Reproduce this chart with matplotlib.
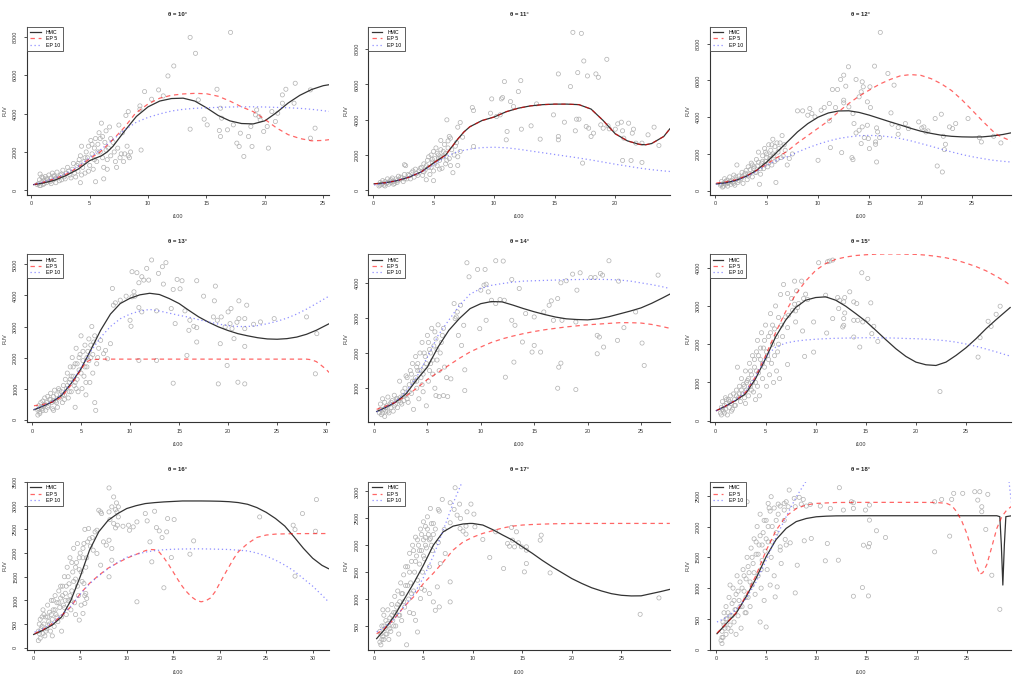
import matplotlib
matplotlib.use("Agg")
import matplotlib.pyplot as plt
from matplotlib.lines import Line2D

plt.rcParams['font.family'] = ['Liberation Sans', 'DejaVu Sans']

thetas = [10, 11, 12, 13, 14, 15, 16, 17, 18]
x_label = "i100"
y_label = "FUV"
legend_labels = ["HMC", "EP 5", "EP 10"]

# ---------------- theta = 10 ----------------
pts10 = [(0.6,350),(0.7,550),(0.75,850),(0.8,250),(0.9,450),(1.0,650),(1.0,300),(1.1,500),(1.2,720),(1.3,400),
         (1.4,600),(1.5,800),(1.6,450),(1.7,650),(1.8,900),(1.9,550),(2.0,750),(2.1,400),(2.2,950),(2.3,650),
         (2.5,800),(2.6,550),(2.7,1050),(2.8,700),(3.0,900),(3.1,1200),(3.3,800),(3.5,1100),(3.6,1400),(3.8,700),
         (3.9,1300),(4.0,1000),(4.1,1600),(4.2,1800),(4.3,2300),(4.4,1200),(4.5,1500),(4.6,900),(4.7,2000),(4.8,1700),
         (4.9,2300),(5.0,1300),(5.1,2600),(5.2,1900),(5.3,1100),(5.4,2200),(5.5,2700),(5.6,1500),(5.7,2400),(5.8,3000),
         (5.9,2000),(6.0,3500),(6.1,2800),(6.2,1200),(6.3,2500),(6.4,3100),(6.5,1600),(6.6,2200),(6.7,3300),(6.8,1800),
         (7.0,2500),(7.1,2000),(7.3,1200),(7.5,3400),(7.6,1700),(7.8,3000),(7.9,1500),(8.0,1900),(8.1,3900),(8.2,2300),
         (8.3,4100),(8.4,1700),(8.5,2000),(9.4,2100),(5.5,450),(6.2,600),(6.5,1100),(4.2,400),
         (13.6,7965),(17.06,8225),(14.06,7134),(12.2,6476),(11.7,5957),(9.7,5143),(10.9,5229),(11.3,4918),(10.3,4745),
         (9.3,4398),(9.3,4225),(14.3,4710),(13.6,3186),(14.8,3706),(15.06,3411),(15.9,5264),(16.2,4277),(16.3,3758),
         (16.1,3117),(16.2,2805),(16.8,3152),(17.3,3411),(17.6,2459),(17.8,2286),(18.2,1766),(17.9,2978),(18.6,2805),
         (18.8,3325),(18.9,2286),(19.2,3931),(19.3,4190),(19.5,3844),(19.6,3671),(19.9,3065),(20.2,3325),(20.3,2200),
         (20.6,4104),(20.9,3585),(21.1,4017),(21.5,4537),(21.5,4970),(21.8,5264),(22.6,5576),(22.5,4537),(23.9,5230),
         (24.3,3238),(23.9,2719)]
dense10 = [(0.5,300),(0.7,250),(0.9,700),(1.1,350),(1.3,600),(1.5,500),(1.7,350),(1.9,750),(2.1,650),(2.4,500),
           (2.6,850),(2.9,600),(3.2,1000),(3.4,650),(3.7,900),(4.0,1400),(4.3,800),(4.6,1700),(4.9,1000),(5.2,2400),
           (5.4,1600),(5.7,2000),(5.9,2700),(6.1,1700),(6.4,2100),(6.8,2700),(7.2,1500),(7.4,2200),(7.7,1900),(8.3,1800)]
hmc10 = [(0.2,300),(1,380),(2,530),(3,780),(4,1100),(5,1550),(6,1800),(6.5,2000),(7,2300),(7.5,2700),(8,3100),
         (9,3850),(10,4350),(11,4650),(12,4780),(13,4800),(14,4650),(15,4300),(16,3900),(17,3620),(18,3480),
         (19,3460),(20,3620),(21,4050),(22,4550),(23,4950),(24,5250),(25,5450),(25.5,5500)]
ep5_10 = [(0.2,300),(1,420),(2,600),(3,850),(4,1200),(5,1650),(5.9,2000),(7,2650),(8,3300),(8.9,4000),(10,4500),
          (11,4800),(12,4950),(13,5020),(14,5050),(15,5030),(16,4900),(17,4650),(18,4350),(19,4100),(20,3700),
          (21,3250),(22,2900),(23,2700),(24,2580),(25,2600),(25.5,2640)]
ep10_10 = [(0.2,300),(1,430),(2,630),(3,900),(4,1250),(5,1700),(6,2150),(7,2650),(8,3150),(9,3550),(10,3800),
           (11,3980),(12,4130),(13,4220),(14,4270),(15,4300),(16,4320),(17,4340),(18,4350),(19,4350),(20,4340),
           (21,4320),(22,4300),(23,4270),(24,4220),(25,4150),(25.5,4110)]

# ---------------- theta = 11 ----------------
pts11 = [(0.5,250),(0.6,450),(0.7,350),(0.8,550),(0.9,300),(1.0,500),(1.1,400),(1.2,650),(1.3,350),(1.4,550),
         (1.5,450),(1.6,700),(1.7,500),(1.8,400),(1.9,650),(2.0,550),(2.1,800),(2.2,600),(2.4,700),(2.5,500),
         (2.6,900),(2.7,1400),(2.8,650),(3.0,850),(3.2,1000),(3.4,750),(3.5,1200),(3.6,950),(3.8,1100),(4.0,1300),
         (4.1,850),(4.2,1500),(4.3,1150),(4.5,1700),(4.6,1300),(4.7,900),(4.8,2000),(4.9,1600),(5.0,2200),(5.0,1100),
         (5.1,1800),(5.2,2400),(5.3,1400),(5.4,2000),(5.5,1700),(5.6,2300),(5.7,1250),(5.8,1900),(5.9,2600),(6.0,1500),
         (6.0,2100),(6.2,2800),(6.3,1800),(6.5,2300),(6.6,1000),(6.8,2500),(7.0,1900),(4.4,600),(5.0,550),(2.6,1450),
         (16.5,8940),(17.2,8883),(19.3,7415),(17.4,7321),(16.9,6662),(17.7,6474),(18.4,6587),(18.6,6399),(15.3,6587),
         (16.3,5872),(10.85,6154),(12.2,6210),(12.0,5590),(9.8,5175),(10.6,5175),(10.7,5250),(11.35,5025),(8.2,4686),
         (8.3,4517),(9.7,4366),(10.2,4178),(10.5,4272),(11.6,4743),(13.5,4893),(14.9,4272),(15.8,3858),(16.8,4027),
         (17.0,4027),(16.7,3369),(17.6,3614),(17.8,3519),(18.0,3049),(18.2,3237),(18.8,3708),(19.0,3519),(19.4,3651),
         (19.5,3482),(20.0,3463),(20.2,3764),(20.5,3858),(20.6,3369),(20.7,2955),(21.1,3802),(21.4,3237),(21.5,3463),
         (21.7,2672),(22.2,2672),(23.2,3576),(23.6,2540),(22.7,3143),(20.6,1694),(21.3,1694),(22.2,1581),(17.3,1543),
         (13.8,2898),(15.3,3049),(15.3,2860),(13.05,3651),(12.25,3463),(11.07,3331),(11.0,2860),(7.2,3839),(7.0,3576),
         (7.4,3011),(7.2,2202),(7.0,1411),(8.3,2484),(6.1,3990),(5.6,2823),(6.3,3049),(6.4,2955)]
dense11 = [(0.6,300),(0.8,400),(1.0,250),(1.2,450),(1.5,600),(1.7,350),(2.0,450),(2.3,750),(2.6,650),(2.9,900),
           (3.1,650),(3.3,1100),(3.7,850),(3.9,1250),(4.2,1050),(4.4,1400),(4.6,1900),(4.8,1300),(5.1,1500),(5.3,2100),
           (5.5,1200),(5.6,1900),(5.8,2200),(6.1,1700),(6.2,2400),(6.4,1400),(6.7,2000),(6.9,2700),(5.4,1800),(4.9,1750)]
hmc11 = [(0.1,370),(1,430),(2,550),(3,750),(4,1050),(5,1550),(6,2000),(6.5,2450),(7,2900),(7.5,3300),(8,3600),
         (9,3950),(10,4150),(11,4450),(12,4650),(13,4780),(14,4850),(15,4880),(16,4880),(17,4850),(18,4600),
         (19,3950),(20,3200),(21,2800),(22,2600),(22.5,2580),(23,2650),(24,3050),(24.5,3480)]
ep5_11 = [(0.1,370),(1,430),(2,550),(3,750),(4,1050),(5,1550),(6,2000),(6.5,2450),(7,2900),(7.5,3300),(8,3600),
          (9,3950),(10,4150),(11,4450),(12,4650),(13,4780),(14,4850),(15,4880),(16,4880),(17,4850),(18,4600),
          (19,3950),(20,3200),(21,2800),(22,2600),(22.5,2580),(23,2650),(24,3050),(24.5,3480)]
ep10_11 = [(0.1,300),(1,420),(2,560),(3,760),(4,1050),(5,1450),(6,1900),(7,2200),(8,2330),(9,2420),(10,2440),
           (11,2410),(12,2330),(13,2230),(14,2130),(15,2030),(16,1930),(17,1830),(18,1720),(19,1600),(20,1480),
           (21,1370),(22,1260),(23,1170),(24,1100),(24.5,1070)]

# ---------------- theta = 12 ----------------
pts12 = [(0.5,300),(0.6,500),(0.7,200),(0.8,400),(0.9,650),(1.0,350),(1.1,550),(1.2,250),(1.3,450),(1.4,750),
         (1.5,350),(1.6,550),(1.7,450),(1.8,850),(1.9,300),(2.0,600),(2.1,1400),(2.2,450),(2.3,800),(2.5,650),
         (2.6,1000),(2.7,400),(2.8,850),(3.0,1100),(3.1,600),(3.2,1300),(3.3,900),(3.5,1500),(3.6,750),(3.7,1200),
         (3.9,1000),(4.0,1700),(4.1,1350),(4.2,2100),(4.3,350),(4.4,900),(4.5,1500),(4.6,1900),(4.7,1200),(4.8,2300),
         (4.9,1600),(5.0,2000),(5.1,1300),(5.2,2500),(5.3,1750),(5.4,2200),(5.5,1400),(5.6,2800),(5.7,1900),(5.8,2400),
         (5.9,450),(6.0,1700),(6.1,2100),(6.3,2600),(6.5,3000),(6.6,1900),(6.8,2200),(7.0,1400),(7.2,1750),(7.5,2000),
         (16.06,8618),(15.5,6781),(12.96,6745),(16.8,6381),(13.7,6054),(12.5,6290),(12.2,6054),(14.3,5927),(12.7,5690),
         (14.4,5654),(11.4,5509),(11.9,5509),(15.05,5654),(17.4,5745),(14.2,5381),(14.0,5109),(12.5,4927),(12.5,4781),
         (11.1,4745),(10.3,4381),(10.6,4527),(11.7,4527),(14.8,4836),(15.1,4527),(13.0,4563),(8.0,4345),(8.5,4345),
         (9.2,4472),(9.4,4200),(9.7,4018),(9.0,4109),(13.4,4200),(11.1,3800),(13.5,3654),(13.7,3145),(14.0,3290),
         (14.3,3472),(14.8,3563),(15.7,3418),(15.8,3200),(14.5,2890),(14.9,2836),(15.6,2654),(15.6,2527),(16.0,2890),
         (14.2,2563),(15.0,2290),(11.2,2345),(12.3,2072),(13.3,1800),(13.4,1690),(15.7,1563),(10.0,1654),(17.1,4236),
         (17.2,3618),(17.8,3436),(18.5,3654),(18.8,3381),(19.8,3745),(20.1,3418),(20.3,3472),(20.5,3200),(20.7,3254),
         (21.4,3927),(22.0,4163),(22.2,2963),(22.4,2527),(22.3,2236),(21.6,1345),(22.1,1018),(22.8,3472),(23.1,3381),
         (23.4,3654),(24.6,3927),(25.7,2890),(25.9,2654),(27.1,2963),(27.8,2600),(17.8,3072)]
dense12 = [(0.6,350),(0.8,250),(1.0,500),(1.2,400),(1.5,500),(1.8,400),(2.0,750),(2.3,550),(2.6,750),(2.9,950),
           (3.2,800),(3.4,1150),(3.8,1300),(4.0,1000),(4.2,1550),(4.4,1200),(4.6,1600),(4.8,1400),(5.0,1800),(5.2,1500),
           (5.4,1900),(5.6,2000),(5.8,1600),(6.0,2600),(6.2,2300),(6.4,1800),(6.7,2500),(3.6,1400),(4.9,2100),(5.5,2500)]
hmc12 = [(0.1,370),(1,430),(2,560),(3,780),(4,1100),(5,1560),(6,2100),(7,2650),(8,3200),(9,3650),(10,4000),
         (11,4230),(12,4340),(13,4350),(14,4260),(15,4110),(16,3930),(17,3750),(18,3580),(19,3400),(20,3240),
         (21,3120),(22,3020),(23,2960),(24,2930),(25,2920),(26,2930),(27,2980),(28,3060),(28.8,3150)]
ep5_12 = [(0.1,420),(1,480),(2,600),(3,800),(4,1100),(5,1450),(6,1800),(7,2150),(8,2600),(9,3000),(10,3400),
          (11,3800),(12,4300),(13,4750),(14,5150),(15,5480),(16,5800),(17,6050),(18,6250),(19,6320),(20,6280),
          (21,6100),(22,5820),(23,5450),(24,4950),(25,4380),(26,3800),(27,3250),(27.5,3030),(28,2900),(28.8,2700)]
ep10_12 = [(0.1,350),(1,420),(2,560),(3,760),(4,1050),(5,1400),(6,1650),(7,1850),(8,2100),(9,2330),(10,2530),
           (11,2700),(12,2840),(13,2930),(14,2990),(15,3010),(16,2990),(17,2930),(18,2840),(19,2720),(20,2570),
           (21,2420),(22,2260),(23,2110),(24,1970),(25,1850),(26,1750),(27,1660),(28,1600),(28.8,1560)]

# ---------------- theta = 13 ----------------
pts13 = [(0.6,300),(0.6,150),(0.7,450),(0.8,250),(0.9,550),(1.0,350),(1.1,600),(1.2,450),(1.3,700),(1.4,300),
         (1.5,550),(1.6,750),(1.7,450),(1.8,650),(1.9,850),(2.0,550),(2.1,350),(2.2,750),(2.3,950),(2.4,600),
         (2.5,800),(2.6,400),(2.7,1000),(2.8,700),(3.0,900),(3.1,550),(3.2,1100),(3.3,800),(3.4,1300),(3.5,1000),
         (3.6,1500),(3.7,700),(3.8,1200),(3.9,1700),(4.0,900),(4.1,2000),(4.2,1400),(4.3,1100),(4.4,1800),(4.5,2300),
         (4.6,1300),(4.7,900),(4.8,1600),(4.9,2100),(5.0,2700),(5.1,1000),(5.2,1900),(5.3,1400),(5.4,2400),(5.5,800),
         (5.6,1700),(5.7,2200),(5.8,2600),(5.9,1200),(6.0,2000),(6.1,3000),(6.2,1500),(6.3,2500),(6.4,550),(6.5,300),
         (6.6,1800),(6.8,2300),(4.4,400),(2.2,300),(0.8,200),
         (12.2,5142),(13.66,5056),(13.3,4926),(11.7,4872),(10.2,4765),(10.7,4733),(11.2,4603),(11.4,4495),(10.9,4409),
         (11.9,4495),(12.9,4711),(14.8,4517),(15.3,4474),(16.8,4474),(18.7,4301),(14.4,4193),(15.1,4215),(13.4,4366),
         (10.4,4118),(10.2,3956),(8.2,4226),(8.5,3762),(8.3,3687),(9.0,3848),(9.6,3977),(10.5,3977),(10.9,3611),
         (10.0,3202),(10.1,3008),(11.2,3471),(12.7,3504),(14.2,3579),(14.6,3094),(15.6,3504),(16.1,3202),(16.5,3008),
         (16.0,2878),(16.8,2964),(16.8,2501),(17.5,3977),(18.6,3827),(18.5,3309),(18.9,3202),(19.3,3309),(19.7,2986),
         (20.0,3471),(20.3,3579),(20.2,3094),(20.4,2932),(20.6,2609),(20.9,3137),(21.1,3255),(21.1,3827),(21.9,3687),
         (21.7,3255),(21.7,2932),(22.6,3072),(23.3,3148),(24.7,3255),(28.0,3309),(29.05,2770),(28.9,1477),(21.7,2361),
         (21.0,1207),(21.7,1153),(19.0,1153),(19.9,1746),(19.2,2447),(15.8,2070),(14.4,1175),(10.9,1908),(12.7,1908),
         (7.7,1962),(7.3,2124),(7.5,2231),(7.0,2555),(8.0,2447)]
dense13 = [(0.7,350),(0.9,400),(1.1,300),(1.3,500),(1.6,400),(1.9,650),(2.2,600),(2.5,550),(2.8,950),(3.1,800),
           (3.3,650),(3.6,1100),(3.8,900),(4.0,1400),(4.2,1700),(4.4,1200),(4.6,1800),(4.8,2000),(5.0,1500),(5.2,2200),
           (5.4,1700),(5.6,2000),(5.8,1900),(6.0,2400),(6.2,2100),(6.4,2700),(6.7,2000),(4.5,1000),(5.5,1200),(3.9,1300)]
hmc13 = [(0.2,320),(1,420),(2,560),(3,780),(4,1170),(5,1640),(6,2250),(7,2880),(8,3400),(9,3740),(10,3910),
         (11,4020),(12,4070),(13,4030),(14,3900),(15,3740),(16,3520),(17,3310),(18,3140),(19,2990),(20,2870),
         (21,2770),(22,2700),(23,2640),(24,2600),(25,2590),(26,2610),(27,2660),(28,2750),(29,2880),(30.3,3090)]
ep5_13 = [(0.2,450),(1,480),(2,560),(3,720),(4,1120),(5,1620),(5.5,1850),(6,1930),(7,1950),(10,1950),(15,1950),
          (20,1950),(25,1950),(28,1950),(28.5,1930),(29,1870),(29.5,1750),(30,1620),(30.3,1520)]
ep10_13 = [(0.2,330),(1,430),(2,570),(3,800),(4,1180),(5,1680),(6,2200),(7,2650),(8,3000),(9,3250),(10,3400),
           (11,3500),(12,3550),(13,3500),(14,3430),(15,3360),(16,3300),(17,3220),(18,3150),(19,3080),(20,3030),
           (21,3000),(22,3000),(23,3030),(24,3090),(25,3170),(26,3270),(27,3400),(28,3560),(29,3740),(30.3,3980)]

# ---------------- theta = 14 ----------------
pts14 = [(0.5,300),(0.6,550),(0.7,250),(0.8,700),(0.9,400),(1.0,200),(1.0,600),(1.1,350),(1.2,500),(1.3,750),
         (1.4,300),(1.5,550),(1.6,450),(1.7,650),(1.8,350),(1.9,800),(2.0,550),(2.1,700),(2.2,450),(2.3,650),
         (2.4,1200),(2.5,750),(2.6,550),(2.7,900),(2.8,650),(2.9,1000),(3.0,800),(3.1,1300),(3.2,600),(3.3,1100),
         (3.4,1500),(3.5,850),(3.6,1700),(3.7,400),(3.8,1200),(3.9,1900),(4.0,1000),(4.1,1500),(4.2,700),(4.3,2000),
         (4.4,1300),(4.5,2300),(4.6,900),(4.7,1600),(4.8,1900),(4.9,500),(5.0,2500),(5.1,1200),(5.2,2100),(5.3,1700),
         (5.4,2700),(5.5,1400),(5.6,2200),(5.7,1000),(5.8,2400),(5.9,1800),(6.0,2800),(6.2,2000),(6.4,2500),(6.6,1600),
         (6.8,1300),(4.0,1200),(3.0,1350),
         (11.4,4618),(12.1,4609),(8.7,4561),(9.7,4371),(10.4,4371),(22.0,4618),(26.6,4210),(18.6,4238),(19.3,4276),
         (21.2,4257),(21.4,4210),(20.3,4143),(20.7,4143),(22.9,4039),(17.5,3992),(18.0,4049),(8.9,4162),(10.0,3783),
         (10.3,3925),(10.5,3953),(10.7,3735),(11.0,3497),(11.8,3517),(12.2,3497),(11.4,3403),(12.9,4087),(13.6,3830),
         (19.0,3783),(17.2,3545),(16.6,3479),(16.4,3355),(15.9,3165),(14.2,3118),(15.0,3023),(12.9,2928),(13.2,2786),
         (17.6,2928),(16.8,2928),(18.9,2880),(20.9,2501),(21.1,2453),(21.5,2168),(20.9,1978),(22.8,2358),(23.4,2719),
         (24.5,3165),(25.1,2282),(25.3,1646),(17.5,1712),(17.3,1598),(17.2,1000),(18.9,962),(13.1,1741),(15.6,2026),
         (15.0,2215),(13.9,2311),(14.8,2026),(12.3,1313),(9.9,2690),(10.5,2928),(8.5,934),(8.5,1522),(8.2,2215),
         (7.9,2500),(7.6,2975),(7.7,3023),(7.8,3165),(8.1,3355),(7.5,3403),(8.4,2786),(6.9,763),(6.5,791),(6.1,763),
         (5.8,791),(7.2,1266)]
dense14 = [(0.6,400),(0.8,300),(1.1,450),(1.3,350),(1.6,600),(1.9,500),(2.2,700),(2.5,600),(2.8,800),(3.1,700),
           (3.3,900),(3.6,1200),(3.9,1300),(4.1,1700),(4.3,1500),(4.5,1100),(4.7,2000),(4.9,1700),(5.1,2300),(5.3,2000),
           (5.5,1800),(5.7,2600),(5.9,2100),(6.1,1500),(6.3,2300),(6.5,2700),(3.5,1400),(4.0,1600),(4.6,1400),(5.2,1500)]
hmc14 = [(0.25,340),(1,440),(2,600),(3,840),(4,1240),(5,1600),(6,2170),(7,2640),(8,2980),(9,3260),(10,3400),
         (11,3460),(12,3450),(13,3360),(14,3260),(15,3170),(16,3090),(17,3020),(18,2970),(19,2950),(20,2940),
         (21,2970),(22,3030),(23,3110),(24,3190),(25,3280),(26,3410),(27,3560),(27.7,3670)]
ep5_14 = [(0.25,400),(1,480),(2,600),(3,780),(4,1000),(5,1250),(6,1450),(7,1650),(8,1850),(9,2030),(10,2170),
          (11,2300),(12,2400),(13,2480),(14,2550),(15,2610),(16,2660),(17,2700),(18,2740),(19,2770),(20,2800),
          (21,2820),(22,2840),(23,2860),(24,2860),(25,2850),(26,2810),(27,2750),(27.7,2700)]
ep10_14 = [(0.25,330),(1,440),(2,620),(3,900),(4,1320),(5,1880),(6,2500),(7,2930),(8,3350),(9,3670),(10,3830),
           (11,3920),(12,3970),(13,4010),(14,4040),(15,4050),(16,4060),(17,4070),(18,4080),(19,4085),(20,4090),
           (21,4090),(22,4085),(23,4070),(24,4040),(25,3990),(26,3940),(27,3880),(27.7,3830)]

# ---------------- theta = 15 ----------------
pts15 = [(0.5,200),(0.6,350),(0.6,150),(0.7,500),(0.8,250),(0.9,400),(1.0,600),(1.0,300),(1.1,450),(1.2,150),
         (1.3,550),(1.4,350),(1.5,650),(1.6,450),(1.7,300),(1.8,700),(1.9,550),(2.0,400),(2.1,800),(2.2,1400),
         (2.3,600),(2.4,900),(2.5,500),(2.6,1100),(2.7,700),(2.8,950),(2.9,600),(3.0,1300),(3.1,800),(3.2,1050),
         (3.3,650),(3.4,1500),(3.5,900),(3.6,1200),(3.7,1700),(3.8,750),(3.9,1400),(4.0,1000),(4.1,1800),(4.2,2100),
         (4.3,1250),(4.4,650),(4.5,1600),(4.6,2300),(4.7,1100),(4.8,1900),(4.9,1400),(5.0,2500),(5.1,900),(5.2,1700),
         (5.3,2200),(5.4,1200),(5.5,2800),(5.6,1500),(5.7,2000),(5.8,1000),(5.9,2400),(6.0,3000),(6.1,1300),(6.2,1800),
         (6.3,2700),(6.4,1100),(6.5,3300),(6.7,2200),(4.0,550),(3.0,450),
         (10.3,4131),(11.2,4158),(11.4,4175),(11.7,4201),(14.6,3869),(15.2,3720),(6.8,3562),(7.9,3650),(8.6,3650),
         (8.1,3396),(9.0,3309),(8.8,3195),(9.2,3169),(8.3,3064),(7.2,3326),(7.6,3195),(7.9,3046),(8.2,2959),(7.7,2888),
         (7.3,2757),(7.0,2714),(7.2,2433),(8.0,2871),(8.0,2582),(11.0,3282),(12.2,3221),(12.4,3151),(12.9,3221),
         (13.4,3370),(13.8,3107),(14.1,3064),(12.8,3107),(12.3,2932),(11.7,2670),(12.8,2670),(12.9,2818),(12.8,2495),
         (12.7,2451),(13.8,2626),(14.2,2626),(14.7,2582),(15.2,2652),(15.5,3081),(15.8,2468),(15.6,2276),(16.2,2074),
         (13.8,2188),(14.4,1926),(11.1,2293),(9.8,2582),(9.8,1794),(8.9,1681),(8.7,2346),(7.2,1470),(22.4,762),
         (26.2,1663),(26.4,2171),(27.2,2600),(27.5,2468),(28.0,2783),(28.4,2994)]
dense15 = [(0.7,300),(0.9,200),(1.1,550),(1.4,500),(1.6,250),(1.9,400),(2.1,650),(2.4,700),(2.6,800),(2.9,900),
           (3.1,1000),(3.3,1100),(3.5,1300),(3.7,1000),(3.9,1600),(4.1,1300),(4.3,1700),(4.5,1900),(4.7,1500),(4.9,2100),
           (5.1,1800),(5.3,1600),(5.5,2300),(5.7,2500),(5.9,1700),(6.1,2200),(6.3,2000),(6.6,2500),(4.2,900),(3.6,800)]
hmc15 = [(0.1,263),(1,380),(2,525),(3,700),(4,1094),(5,1619),(6,2188),(7,2626),(8,2959),(9,3151),(10,3221),
         (11,3239),(12,3151),(13,2994),(14,2801),(15,2600),(16,2363),(17,2118),(18,1882),(19,1681),(20,1532),
         (21,1462),(22,1444),(23,1532),(24,1707),(25,1908),(26,2145),(27,2407),(28,2643),(29.4,2959)]
ep5_15 = [(0.1,263),(1,380),(2,530),(3,740),(4,1150),(5,1700),(6,2300),(7,2850),(8,3300),(9,3650),(10,3930),
          (11,4110),(12,4220),(13,4280),(14,4320),(15,4340),(16,4355),(17,4360),(18,4360),(19,4355),(20,4350),
          (21,4330),(22,4300),(23,4260),(24,4200),(25,4120),(26,4030),(27,3920),(28,3780),(29,3620),(29.4,3545)]
ep10_15 = [(0.1,263),(1,380),(2,540),(3,760),(4,1150),(5,1650),(5.5,1800),(6,1920),(7,2030),(8,2080),(9,2110),
           (10,2130),(11,2145),(12,2155),(13,2160),(14,2165),(15,2170),(16,2170),(17,2165),(18,2160),(19,2150),
           (20,2145),(21,2130),(22,2115),(23,2090),(24,2055),(25,2005),(26,1945),(27,1875),(28,1800),(29,1720),
           (29.4,1690)]

# ---------------- theta = 16 ----------------
pts16 = [(0.5,150),(0.6,300),(0.6,500),(0.7,200),(0.8,400),(0.9,650),(1.0,300),(1.0,800),(1.1,500),(1.2,250),
         (1.3,650),(1.4,400),(1.5,900),(1.6,550),(1.7,750),(1.8,350),(1.9,1000),(2.0,600),(2.1,800),(2.2,450),
         (2.3,1100),(2.4,700),(2.5,950),(2.6,550),(2.7,1200),(2.8,850),(2.9,1050),(3.0,650),(3.1,1300),(3.2,900),
         (3.3,1500),(3.4,1150),(3.5,700),(3.6,1700),(3.7,1000),(3.8,1350),(3.9,1900),(4.0,800),(4.1,1200),(4.2,1600),
         (4.3,2100),(4.4,950),(4.5,1450),(4.6,1800),(4.7,2200),(4.8,1100),(4.9,1650),(5.0,2000),(5.1,900),(5.2,1400),
         (5.3,1900),(5.4,2200),(5.5,2500),(5.6,1700),(3.0,350),(2.0,250),(4.5,700),
         (8.1,3375),(8.6,3185),(8.9,3059),(8.4,2975),(9.1,2975),(8.8,2918),(8.95,2869),(8.1,2869),(7.3,2834),(7.0,2904),
         (7.2,2869),(8.2,2707),(8.6,2623),(9.0,2588),(8.8,2531),(9.6,2566),(9.1,2763),(10.2,2588),(11.1,2658),
         (12.2,2679),(12.0,2834),(13.0,2883),(14.4,2728),(15.1,2707),(13.2,2538),(13.5,2468),(14.3,2447),(13.8,2327),
         (12.5,2236),(12.7,1814),(14.8,1905),(16.8,1976),(17.2,2257),(14.0,1266),(11.1,970),(24.3,2763),(27.9,2588),
         (28.1,2496),(28.9,2834),(30.3,2461),(30.4,3129),(28.1,1512),(10.3,2482),(10.7,2553),(8.4,2096),(8.1,2271),
         (8.4,1849),(7.8,2166),(7.5,2236),(6.8,2482),(6.6,2447),(6.3,2327),(5.9,2517),(5.8,2236),(6.1,2145),(6.4,2060),
         (6.8,1990),(7.2,1744),(8.1,1498),(5.6,1146),(5.7,1041),(5.5,935),(5.3,724),(4.9,584),(5.4,1357)]
dense16 = [(0.5,350),(0.7,600),(0.9,450),(1.1,700),(1.3,350),(1.5,650),(1.7,500),(1.9,700),(2.1,1000),(2.3,800),
           (2.5,650),(2.7,950),(2.9,1300),(3.1,1100),(3.3,850),(3.5,1300),(3.7,1500),(3.9,1100),(4.1,1800),(4.3,1400),
           (4.5,1700),(4.7,1300),(4.9,1900),(5.1,1600),(5.3,2100),(5.5,1100),(5.7,1900),(6.0,2300),(4.0,1000),(3.4,1000)]
hmc16 = [(0.0,280),(1,370),(2,480),(3,650),(4,1000),(5,1500),(6,2060),(7,2450),(8,2690),(9,2830),(10,2940),
         (11,3000),(12,3045),(13,3065),(14,3080),(15,3090),(16,3100),(17,3100),(18,3100),(19,3098),(20,3094),
         (21,3085),(22,3066),(23,3030),(24,2960),(25,2860),(26,2730),(27,2570),(28,2340),(29,2100),(30,1890),
         (31,1740),(31.7,1670)]
ep5_16 = [(0.1,300),(1,380),(2,510),(3,680),(4,870),(5,1140),(6,1360),(7,1530),(8,1680),(9,1790),(10,1890),
          (11,1970),(12,2050),(12.5,2075),(13,2070),(13.5,2020),(14,1900),(14.5,1760),(15,1600),(15.5,1440),
          (16,1290),(16.5,1170),(17,1070),(17.5,1000),(18,970),(18.5,990),(19,1050),(19.5,1180),(20,1360),
          (20.5,1540),(21,1710),(21.5,1880),(22,2025),(23,2200),(24,2330),(25,2380),(26,2400),(28,2410),(31.7,2412)]
ep10_16 = [(0.1,330),(1,400),(2,520),(3,690),(4,880),(5,1130),(6,1350),(7,1520),(8,1670),(9,1800),(10,1910),
           (11,1970),(12,2020),(13,2050),(14,2070),(15,2080),(16,2085),(17,2088),(18,2088),(19,2085),(20,2080),
           (21,2075),(22,2060),(23,2045),(24,2000),(25,1935),(26,1850),(27,1745),(28,1620),(29,1460),(30,1300),
           (31,1110),(31.7,970)]

# ---------------- theta = 17 ----------------
pts17 = [(0.6,200),(0.7,350),(0.7,150),(0.8,500),(0.9,300),(1.0,700),(1.0,250),(1.1,450),(1.2,600),(1.3,350),
         (1.4,800),(1.5,500),(1.6,650),(1.7,400),(1.8,900),(1.9,600),(2.0,750),(2.1,1050),(2.2,500),(2.3,850),
         (2.4,1150),(2.5,700),(2.6,950),(2.7,1300),(2.8,600),(2.9,1100),(3.0,1450),(3.1,850),(3.2,1250),(3.3,150),
         (3.4,1600),(3.5,1000),(3.6,1850),(3.7,1300),(3.8,1700),(3.9,2000),(4.0,1150),(4.1,1500),(4.2,2150),(4.3,1800),
         (4.4,1350),(4.5,2000),(4.6,1650),(4.7,2300),(4.8,1900),(4.9,1500),(5.0,2100),(5.1,1750),(5.2,2350),(5.3,1950),
         (5.5,2200),(5.6,1600),(5.8,2400),(5.9,1900),(6.2,2300),(6.5,2050),(1.5,250),(2.5,350),(0.9,800),
         (8.2,3068),(6.9,2851),(7.7,2789),(8.65,2764),(6.5,2665),(6.6,2634),(9.8,2764),(9.4,2621),(10.1,2578),
         (8.1,2665),(8.4,2559),(8.75,2497),(9.3,2355),(9.0,2262),(7.7,2417),(7.1,2293),(8.7,2311),(10.2,2342),
         (9.3,2206),(11.0,2107),(12.3,2249),(13.9,2330),(14.4,2249),(14.0,2094),(14.6,2045),(13.5,2032),(13.7,1982),
         (14.2,1970),(14.9,1970),(15.4,1970),(15.4,1908),(16.8,2094),(16.9,2187),(11.7,1772),(13.1,1567),(15.2,1505),
         (15.4,1660),(17.8,1486),(7.7,1319),(7.7,947),(26.9,717),(28.8,1021),(7.2,1846),(6.7,1660),(6.4,1226),
         (6.2,791),(6.6,854),(6.0,947),(5.6,1102),(5.1,1164),(4.7,1009),(4.4,388),(4.2,605),(4.0,729),(5.7,2683),
         (6.0,2404),(5.4,2528),(5.0,2435),(5.2,2144),(5.7,2125)]
dense17 = [(0.6,400),(0.8,250),(1.0,500),(1.2,350),(1.4,550),(1.6,450),(1.8,700),(2.0,500),(2.2,750),(2.4,900),
           (2.6,700),(2.8,1100),(3.0,950),(3.2,1600),(3.4,1250),(3.6,1500),(3.8,1100),(4.0,1900),(4.2,1700),(4.4,2100),
           (4.6,1900),(4.8,2200),(5.0,1800),(5.2,2000),(5.4,2300),(5.6,2100),(5.8,2000),(6.0,2200),(3.6,750),(4.8,1200)]
hmc17 = [(0.27,265),(1,420),(2,670),(3,980),(4,1290),(5,1630),(6,2000),(7,2250),(8,2355),(9,2395),(9.7,2405),
         (10,2404),(11,2375),(12,2290),(13,2190),(14,2095),(15,1970),(16,1850),(17,1720),(18,1600),(19,1490),
         (20,1380),(21,1290),(22,1210),(23,1150),(24,1100),(25,1070),(26,1058),(27,1060),(28,1100),(29,1140),
         (29.9,1180)]
ep5_17 = [(0.27,355),(1,440),(2,620),(3,850),(4,1040),(5,1290),(6,1480),(7,1690),(8,1910),(9,2060),(10,2150),
          (11,2220),(12,2270),(13,2320),(14,2355),(15,2375),(16,2385),(17,2392),(18,2398),(20,2404),(25,2405),
          (29.9,2405)]
ep10_17 = [(0.27,390),(1,470),(2,620),(3,850),(4,1080),(5,1400),(6,1800),(7,2280),(8,2780),(8.5,3000),(9.2,3300),
           (9.6,3450)]

# ---------------- theta = 18 ----------------
pts18 = [(0.5,150),(0.6,100),(0.6,300),(0.7,450),(0.7,200),(0.8,600),(0.9,350),(1.0,250),(1.0,700),(1.1,500),
         (1.2,350),(1.3,850),(1.4,550),(1.5,300),(1.6,750),(1.7,1000),(1.8,450),(1.9,650),(2.0,900),(2.1,1200),
         (2.2,550),(2.3,800),(2.4,1100),(2.5,350),(2.6,700),(2.7,1300),(2.8,950),(2.9,600),(3.0,1150),(3.1,1500),
         (3.2,850),(3.3,1250),(3.4,700),(3.5,1650),(3.6,1050),(3.7,1400),(3.8,1800),(3.9,900),(4.0,1550),(4.1,2000),
         (4.2,1200),(4.3,1700),(4.4,2200),(4.5,1000),(4.6,1450),(4.7,1900),(4.8,800),(4.9,1600),(5.0,2100),(5.1,1300),
         (5.2,1750),(5.3,2300),(5.4,1050),(5.5,1500),(5.6,2000),(5.8,1200),(6.0,1900),(6.2,2200),(6.5,1400),(6.8,2100),
         (7.0,1700),(2.0,250),(1.4,1050),
         (12.3,2630),(7.3,2592),(5.5,2484),(8.3,2473),(8.7,2440),(3.1,2402),(5.2,2375),(7.8,2457),(7.0,2402),(6.8,2375),
         (6.2,2364),(6.4,2332),(7.2,2321),(7.9,2321),(8.5,2364),(9.0,2332),(9.4,2359),(10.4,2332),(11.4,2294),
         (12.7,2267),(13.5,2402),(13.7,2386),(13.7,2294),(14.9,2267),(15.3,2348),(21.8,2402),(22.5,2440),(23.5,2440),
         (23.7,2538),(24.6,2538),(25.8,2565),(26.3,2565),(26.1,2429),(27.1,2522),(26.5,2321),(26.5,2240),(26.9,1952),
         (23.3,1844),(21.8,1589),(15.3,2104),(16.0,1931),(16.9,1822),(11.1,1724),(10.9,1443),(12.2,1453),(14.7,1697),
         (15.3,1724),(15.2,1670),(8.1,1372),(9.5,1806),(8.8,1768),(6.8,2267),(14.6,1009),(13.7,868),(15.2,873),
         (27.5,1209),(28.3,656),(7.4,1735),(6.4,1670),(6.9,1790),(7.9,922),(6.1,1020),(5.0,369),(4.4,450),(6.4,1616),
         (5.9,857)]
dense18 = [(0.6,200),(0.8,400),(1.0,500),(1.2,600),(1.4,400),(1.6,550),(1.8,800),(2.0,650),(2.2,950),(2.4,700),
           (2.6,1000),(2.8,1200),(3.0,850),(3.2,1350),(3.4,1100),(3.6,1500),(3.8,1250),(4.0,1750),(4.2,1550),(4.4,1850),
           (4.6,1700),(4.8,2100),(5.0,1800),(5.2,2000),(5.4,2250),(5.6,1750),(5.8,2300),(6.0,2100),(3.0,600),(4.5,1300)]
hmc18 = [(0.1,260),(1,420),(2,590),(3,860),(4,1160),(5,1510),(6,1790),(7,1970),(8,2080),(9,2130),(10,2158),
         (11,2168),(12,2173),(15,2175),(20,2175),(25,2175),(28,2175),(28.3,2160),(28.45,1700),(28.6,1050),
         (28.75,1700),(28.9,2160),(29.5,2175)]
ep5_18 = [(0.1,270),(1,420),(2,600),(3,880),(4,1210),(5,1610),(6,1940),(7,2170),(8,2290),(9,2350),(10,2375),
          (12,2390),(15,2392),(20,2392),(22,2390),(23,2375),(23.5,2340),(24,2240),(24.5,2090),(25,1890),(25.5,1620),
          (26,1350),(26.3,1226),(26.6,1250),(27,1380),(27.5,1670),(28,1970),(28.5,2160),(29,2270),(29.5,2330)]
ep10_18 = [(0.1,450),(1,520),(2,650),(3,830),(4,1100),(5,1450),(6,1830),(7,2160),(8,2480),(9,2740),(9.5,2900),
           (10,3100),(29.0,3100),(29.3,2600),(29.5,2340)]

panel_points = [pts10 + dense10, pts11 + dense11, pts12 + dense12, pts13 + dense13, pts14 + dense14,
                pts15 + dense15, pts16 + dense16, pts17 + dense17, pts18 + dense18]
panel_hmc = [hmc10, hmc11, hmc12, hmc13, hmc14, hmc15, hmc16, hmc17, hmc18]
panel_ep5 = [ep5_10, ep5_11, ep5_12, ep5_13, ep5_14, ep5_15, ep5_16, ep5_17, ep5_18]
panel_ep10 = [ep10_10, ep10_11, ep10_12, ep10_13, ep10_14, ep10_15, ep10_16, ep10_17, ep10_18]

xlims = [(-0.37, 25.45), (-0.38, 24.5), (-0.55, 28.8), (-0.51, 30.24), (-0.53, 27.7),
         (-0.57, 29.5), (-0.72, 31.7), (-0.57, 29.9), (-0.63, 29.43)]
ylims = [(-225, 8520), (-245, 9260), (-218, 8927), (-86, 5323), (31, 4799),
         (-44, 4350), (-49, 3500), (53, 3174), (-5, 2722)]
xticks = [range(0, 26, 5), range(0, 21, 5), range(0, 26, 5), range(0, 31, 5), range(0, 26, 5),
          range(0, 26, 5), range(0, 31, 5), range(0, 26, 5), range(0, 26, 5)]
yticks = [range(0, 8001, 2000), range(0, 8001, 2000), range(0, 8001, 2000), range(0, 5001, 1000),
          range(1000, 4001, 1000), range(0, 4001, 1000), range(0, 3501, 500), range(500, 3001, 500),
          range(0, 2501, 500)]

W, H = 1024, 683
fig = plt.figure(figsize=(W / 100, H / 100), dpi=100)
fig.patch.set_facecolor('white')

pw, ph = W / 3, H / 3
ax_left, ax_right, ax_top, ax_bottom = 27.0, 328.5, 26.7, 194.7

hmc_style = dict(color='#333333', lw=0.9, linestyle='-')
ep5_style = dict(color='#FF0000', alpha=0.6, lw=0.9, linestyle=(0, (3.5, 3)))
ep10_style = dict(color='#6060FF', alpha=0.7, lw=0.9, linestyle=(0, (1, 2.2)))

for i, theta in enumerate(thetas):
    r, c = divmod(i, 3)
    left = (c * pw + ax_left) / W
    width = (ax_right - ax_left) / W
    bottom = 1 - (r * ph + ax_bottom) / H
    height = (ax_bottom - ax_top) / H
    ax = fig.add_axes([left, bottom, width, height])

    px = [p[0] for p in panel_points[i]]
    py = [p[1] for p in panel_points[i]]
    ax.scatter(px, py, s=9, facecolors='none', edgecolors='#B0B0B0', linewidths=0.5, zorder=1)

    for data, st in ((panel_hmc[i], hmc_style), (panel_ep5[i], ep5_style), (panel_ep10[i], ep10_style)):
        ax.plot([p[0] for p in data], [p[1] for p in data], zorder=2, **st)

    ax.set_xlim(*xlims[i])
    ax.set_ylim(*ylims[i])
    ax.set_xticks(list(xticks[i]))
    ax.set_yticks(list(yticks[i]))
    ax.set_xticklabels([str(v) for v in xticks[i]])
    ax.set_yticklabels([str(v) for v in yticks[i]], rotation=90, va='center')

    for s in ('top', 'right'):
        ax.spines[s].set_visible(False)
    for s in ('left', 'bottom'):
        ax.spines[s].set_color('#333333')
        ax.spines[s].set_linewidth(0.8)
    ax.tick_params(axis='both', length=2.4, width=0.6, color='#333333', labelsize=3.9, labelcolor='#333333')
    ax.tick_params(axis='x', pad=2.2)
    ax.tick_params(axis='y', pad=4.0)

    ax.set_xlabel(x_label, fontsize=3.9, color='#333333')
    ax.set_ylabel(y_label, fontsize=3.9, color='#333333')
    ax.xaxis.set_label_coords(0.5, -(214.5 - ax_bottom) / (ax_bottom - ax_top))
    ax.yaxis.set_label_coords(-(ax_left - 7.5) / (ax_right - ax_left), 0.5)

    ax.text(0.5, 1 + 12.7 / (ax_bottom - ax_top), f"θ = {theta}°", transform=ax.transAxes,
            ha='center', va='center', fontsize=4.3, fontweight='bold', color='#222222')

    handles = [Line2D([], [], **hmc_style), Line2D([], [], **ep5_style), Line2D([], [], **ep10_style)]
    leg = ax.legend(handles, legend_labels, loc='upper left', bbox_to_anchor=(0, 1), borderaxespad=0,
                    fontsize=3.8, frameon=True, fancybox=False, edgecolor='#444444', framealpha=1,
                    handlelength=2.0, handletextpad=1.0, borderpad=0.6, labelspacing=0.25)
    leg.get_frame().set_linewidth(0.6)
    leg.set_zorder(5)

fig.savefig("out.png", dpi=100, facecolor='white')
